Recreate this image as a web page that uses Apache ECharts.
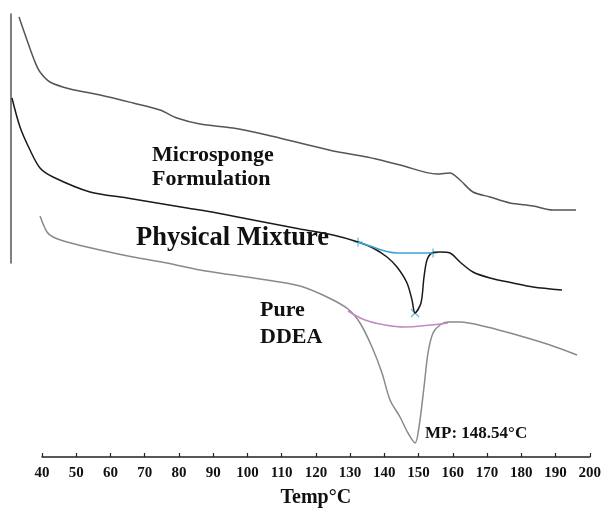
<!DOCTYPE html>
<html><head><meta charset="utf-8">
<script src="https://cdn.jsdelivr.net/npm/echarts@6/dist/echarts.min.js"></script>
<style>html,body{margin:0;padding:0;background:#fff}#c{width:604px;height:513px}</style>
</head><body><div id="c"></div>
<script>
// Temperature (°C) and heat flow (arbitrary units, endo down)
const microspongeT = [33.31,35.93,37.96,39.42,42.33,48.15,56.87,66.47,74.33,79.27,85.96,95.56,105.45,115.05,124.65,134.55,144.15,154.91,158.69,161.60,165.38,170.33,176.15,182.84,188.65,195.35];
const microspongeHF = [43.8,41.2,39.3,38.3,37.3,36.6,36.0,35.2,34.5,33.7,33.1,32.7,32.0,31.2,30.4,29.8,29.0,28.1,28.2,27.5,26.3,25.8,25.2,24.9,24.5,24.5];
const mixtureT = [31.27,33.60,36.51,39.42,43.20,53.96,64.73,73.45,82.18,90.91,101.38,115.05,124.65,131.93,136.29,140.36,143.27,146.18,147.64,148.51,150.25,151.13,152.00,153.45,155.78,158.69,161.60,165.38,170.33,177.02,182.84,191.27];
const mixtureHF = [35.7,32.8,30.5,28.7,27.8,26.3,25.7,25.2,24.7,24.2,23.5,22.6,22.0,21.3,20.7,19.8,18.8,17.2,15.5,14.2,15.2,17.8,19.5,20.2,20.3,20.2,19.3,18.3,17.7,17.2,16.8,16.5];
const ddeaT = [39.42,41.45,43.20,47.27,56.87,66.47,76.36,85.96,95.56,105.45,115.05,122.91,129.02,132.51,136.00,138.91,141.24,144.15,146.47,148.54,149.67,151.13,152.29,153.75,155.78,158.11,161.60,169.45,178.18,187.78,195.64];
const ddeaHF = [23.9,22.3,21.8,21.3,20.5,19.8,19.2,18.5,18.0,17.5,16.9,15.8,14.6,13.2,10.8,8.2,5.5,3.8,2.2,1.2,2.8,6.8,10.2,12.2,13.0,13.3,13.3,12.8,12.0,11.0,10.0];
const mixBaseT = [131.93,135.42,139.78,143.56,153.75];
const mixBaseHF = [21.3,20.9,20.4,20.2,20.2];
const mixPeak = [148.51,14.2];
const ddeaBaseT = [129.02,133.96,139.78,145.60,153.16,158.11];
const ddeaBaseHF = [14.4,13.5,13.0,12.8,13.0,13.2];
const xTicks = [40,50,60,70,80,90,100,110,120,130,140,150,160,170,180,190,200];

const zip = (a,b) => a.map((v,i)=>[v,b[i]]);
const serif = '"Liberation Serif","DejaVu Serif",serif';
const plusPath = 'path://M0,-5L0,5M-5,0L5,0';
const xPath = 'path://M-5,-5L5,5M5,-5L-5,5';
const barPath = 'path://M0,-5L0,5';

const chart = echarts.init(document.getElementById('c'));
chart.setOption({
  animation:false,
  grid:[
    {left:10,right:12,top:0,bottom:58},          // data area (traces start left of 40 °C)
    {left:42,right:12,top:0,bottom:56},          // visible temperature axis
    {left:11,top:14,width:1,height:249}          // vertical signal line
  ],
  xAxis:[
    {type:'value',gridIndex:0,min:30.69,max:200,show:false},
    {type:'value',gridIndex:1,min:40,max:200,interval:10,
     axisLine:{show:true,onZero:false,lineStyle:{color:'#222',width:1.5}},
     axisTick:{show:true,inside:true,length:4,lineStyle:{color:'#222',width:1.2}},
     splitLine:{show:false},
     axisLabel:{margin:9,fontFamily:serif,fontWeight:'bold',fontSize:15,color:'#111',
       formatter:v=>xTicks.includes(v)?String(v):''},
     name:'Temp°C',nameLocation:'middle',nameGap:31,
     nameTextStyle:{fontFamily:serif,fontWeight:'bold',fontSize:20,color:'#111'}},
    {type:'value',gridIndex:2,show:false,min:0,max:1}
  ],
  yAxis:[
    {type:'value',gridIndex:0,min:0,max:45.5,show:false},
    {type:'value',gridIndex:1,min:0,max:1,show:false},
    {type:'value',gridIndex:2,min:0,max:1,axisLine:{show:true,lineStyle:{color:'#555',width:1.5}},
     axisTick:{show:false},axisLabel:{show:false},splitLine:{show:false}}
  ],
  series:[
    {type:'line',data:zip(microspongeT,microspongeHF),showSymbol:false,smooth:0.3,
     lineStyle:{color:'#555',width:1.5}},
    {type:'line',data:zip(mixtureT,mixtureHF),showSymbol:false,smooth:0.3,
     lineStyle:{color:'#1a1a1a',width:1.5}},
    {type:'line',data:zip(ddeaT,ddeaHF),showSymbol:false,smooth:0.3,
     lineStyle:{color:'#8a8a8a',width:1.5}},
    {type:'line',data:zip(mixBaseT,mixBaseHF),showSymbol:false,smooth:0.4,
     lineStyle:{color:'#3aa5d5',width:1.5}},
    {type:'line',data:zip(ddeaBaseT,ddeaBaseHF),showSymbol:false,smooth:0.4,
     lineStyle:{color:'#c48ac4',width:1.5}},
    {type:'scatter',symbol:plusPath,symbolSize:9,
     data:[[mixBaseT[0],mixBaseHF[0]],[mixBaseT[mixBaseT.length-1],mixBaseHF[mixBaseHF.length-1]]],
     itemStyle:{color:'none',borderColor:'#3aa5d5',borderWidth:1.2}},
    {type:'scatter',symbol:xPath,symbolSize:8,data:[mixPeak],
     itemStyle:{color:'none',borderColor:'#3aa5d5',borderWidth:1.2}},
    {type:'scatter',symbol:barPath,symbolSize:8,
     data:[[ddeaBaseT[0],ddeaBaseHF[0]],[ddeaBaseT[ddeaBaseT.length-1],ddeaBaseHF[ddeaBaseHF.length-1]]],
     itemStyle:{color:'none',borderColor:'#7a3a5a',borderWidth:1.5}}
  ],
  graphic:[
    {type:'text',left:152,top:143,style:{text:'Microsponge\nFormulation',lineHeight:24,fontFamily:serif,fontWeight:'bold',fontSize:22,fill:'#111'}},
    {type:'text',left:136,top:223,style:{text:'Physical Mixture',lineHeight:30,fontFamily:serif,fontWeight:'bold',fontSize:26.5,fill:'#111'}},
    {type:'text',left:260,top:297,style:{text:'Pure\nDDEA',lineHeight:27,fontFamily:serif,fontWeight:'bold',fontSize:22,fill:'#111'}},
    {type:'text',left:425,top:424,style:{text:'MP: 148.54°C',lineHeight:20,fontFamily:serif,fontWeight:'bold',fontSize:17,fill:'#111'}}
  ]
});
</script></body></html>
